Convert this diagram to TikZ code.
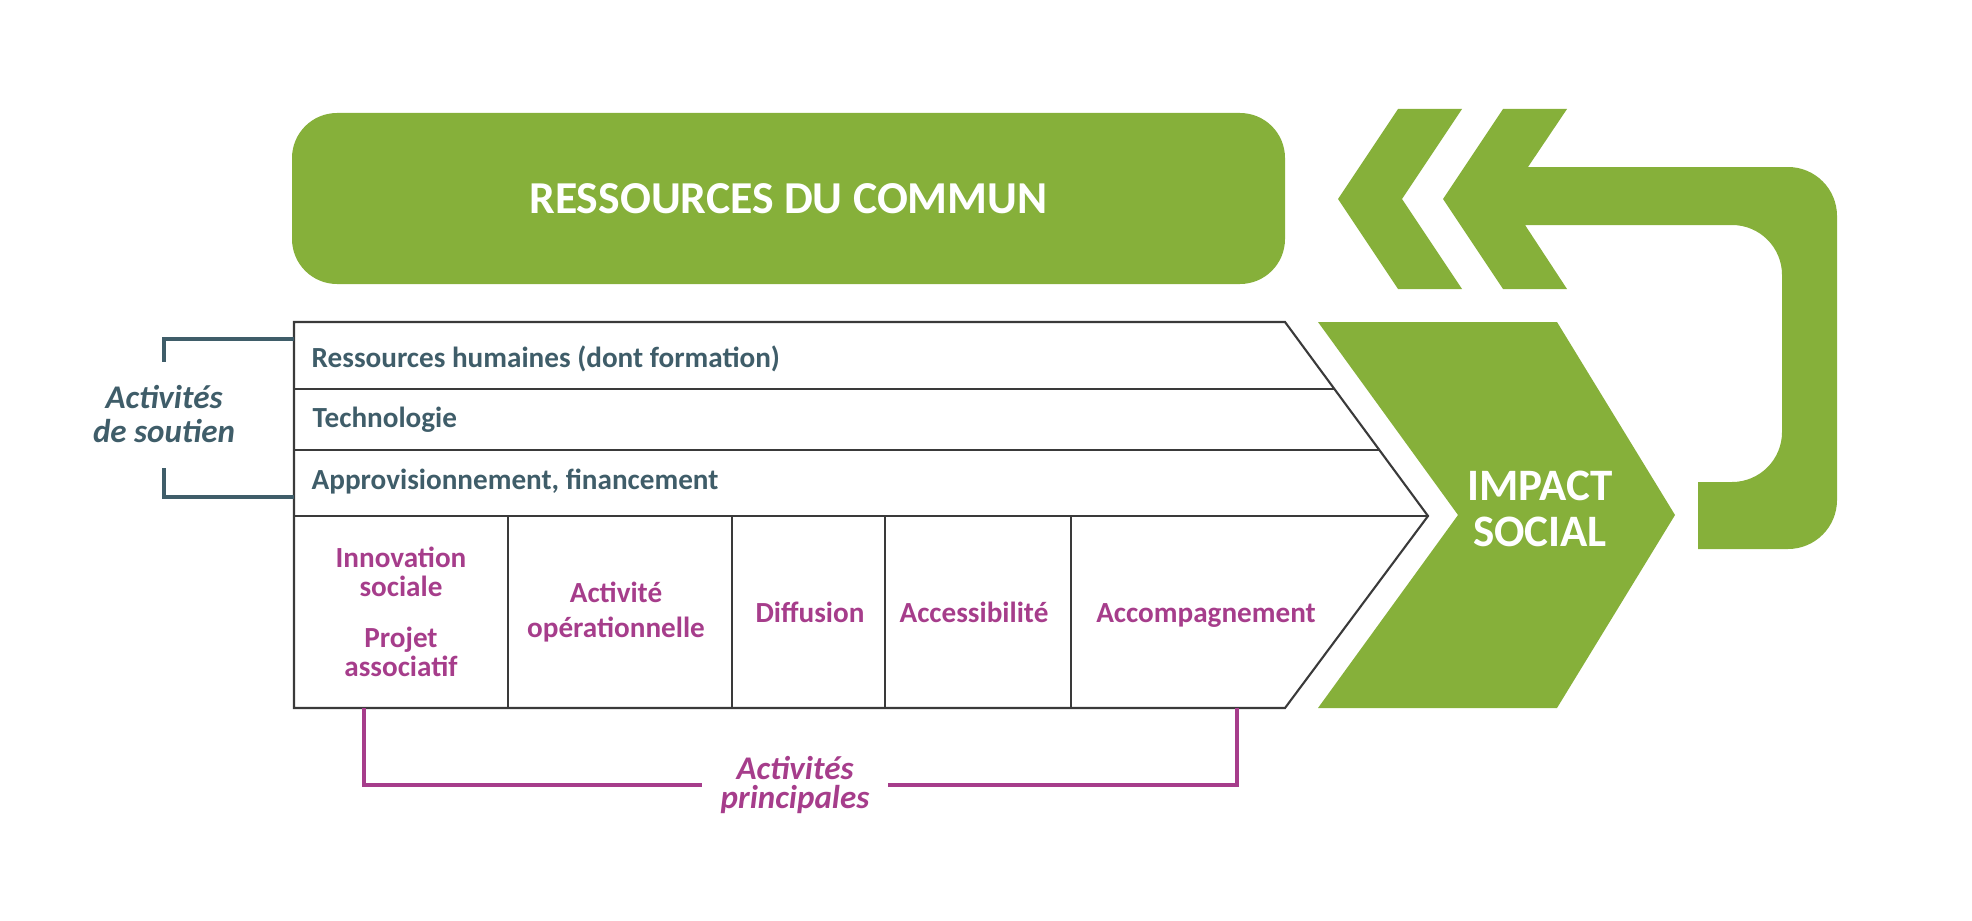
\documentclass[tikz,border=0pt]{standalone}
\usepackage{fontspec}
\setmainfont{Carlito}
\usepackage{tikz}
\usetikzlibrary{positioning,arrows.meta}

\definecolor{vgreen}{HTML}{86B03A}
\definecolor{slate}{HTML}{3F5D69}
\definecolor{plum}{HTML}{A63D8B}
\definecolor{frameline}{HTML}{3A3A3A}

\begin{document}
\begin{tikzpicture}[
    frame/.style={frameline, line width=0.6pt},
    suppline/.style={slate, line width=1pt},
    prinline/.style={plum, line width=1pt},
    supptext/.style={slate, font=\fontsize{8.3}{9.4}\selectfont\bfseries, inner sep=0pt},
    celltext/.style={plum, font=\fontsize{8.3}{8.3}\selectfont\bfseries, align=center, inner sep=0pt},
    bigtext/.style={white, font=\fontsize{13}{13.1}\selectfont\bfseries, align=center}
]
\useasboundingbox (0,0) rectangle (19.72,9.20);

% Top block
\node[bigtext, fill=vgreen, rounded corners=0.45cm, minimum width=9.93cm, minimum height=1.71cm] (commun) at (7.885,7.215) {RESSOURCES DU COMMUN};

% Return arrow
\fill[vgreen] (13.98,8.11) -- (14.62,8.11) -- (14.02,7.21) -- (14.62,6.31) -- (13.98,6.31) -- (13.38,7.21) -- cycle;
\fill[vgreen] (15.03,8.11) -- (15.67,8.11) -- (15.28,7.53) -- (17.88,7.53)
    arc[start angle=90, end angle=0, radius=0.49] -- (18.37,4.20)
    arc[start angle=0, end angle=-90, radius=0.49] -- (16.98,3.71) -- (16.98,4.38) -- (17.32,4.38)
    arc[start angle=-90, end angle=0, radius=0.50] -- (17.82,6.45)
    arc[start angle=0, end angle=90, radius=0.50] -- (15.25,6.95) -- (15.67,6.31) -- (15.03,6.31) -- (14.43,7.21) -- cycle;

% Impact chevron
\fill[vgreen] (13.18,5.98) -- (15.57,5.98) -- (16.75,4.05) -- (15.57,2.12) -- (13.18,2.12) -- (14.58,4.05) -- cycle;
\node[bigtext, font=\fontsize{12.8}{13.1}\selectfont\bfseries, inner sep=0pt] (impact) at (15.40,4.115) {IMPACT\\SOCIAL};

% Value chain frame
\draw[frame] (2.94,5.98) -- (12.85,5.98) -- (14.28,4.04) -- (12.85,2.12) -- (2.94,2.12) -- cycle;
\foreach \y/\x in {5.31/13.34, 4.70/13.79, 4.04/14.28}
    \draw[frame] (2.94,\y) -- (\x,\y);
\foreach \x in {5.08,7.32,8.85,10.71}
    \draw[frame] (\x,4.04) -- (\x,2.12);

% Support activities
\node[supptext, anchor=base west] (rh) at (3.11,5.53) {Ressources humaines (dont formation)};
\node[supptext, anchor=base west] (tech) at (3.12,4.93) {Technologie};
\node[supptext, anchor=base west] (appro) at (3.11,4.31) {Approvisionnement, financement};

% Main activities
\node[celltext] (inno) at (4.01,3.08) {Innovation\\sociale\\[6.2pt] Projet\\associatif};
\node[celltext, font=\fontsize{8.3}{10}\selectfont\bfseries] (opera) at (6.16,3.08) {Activité\\opérationnelle};
\node[celltext, anchor=base] (diff) at (8.10,2.98) {Diffusion};
\node[celltext, anchor=base] (acces) at (9.74,2.98) {Accessibilité};
\node[celltext, anchor=base] (accomp) at (12.06,2.98) {Accompagnement};

% Brackets
\node[supptext, align=center, font=\fontsize{9.4}{9.4}\selectfont\bfseries\itshape] (soutien) at (1.64,5.06) {Activités\\de soutien};
\coordinate (sa) at (2.94,5.81);
\coordinate (sb) at (2.94,4.23);
\coordinate (sc) at (1.64,5.58);
\coordinate (sd) at (1.64,4.52);
\draw[suppline] (sa) -| (sc);
\draw[suppline] (sb) -| (sd);

\node[plum, align=center, inner sep=0.18cm, font=\fontsize{9.4}{8}\selectfont\bfseries\itshape] (prin) at (7.95,1.35) {Activités\\principales};
\coordinate (pa) at (3.64,2.12);
\coordinate (pb) at (12.37,2.12);
\draw[prinline] (pa) |- (prin.west);
\draw[prinline] (pb) |- (prin.east);

\end{tikzpicture}
\end{document}
